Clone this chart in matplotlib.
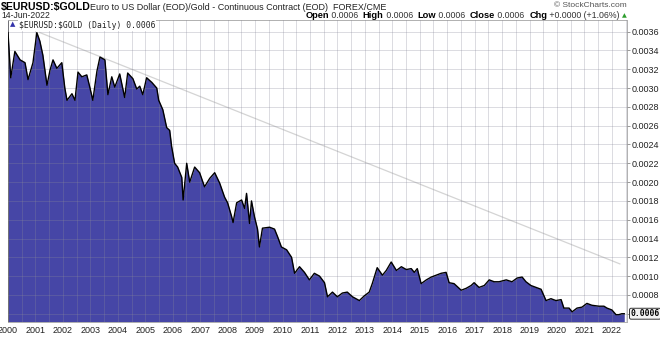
import matplotlib
matplotlib.use("Agg")
import matplotlib.pyplot as plt
from matplotlib.ticker import MultipleLocator, FixedLocator

# EUR/USD priced in gold, decimal-year dates and ratio values
years = [2000.00, 2000.10, 2000.25, 2000.44, 2000.62, 2000.73, 2000.91, 2001.05, 2001.16, 2001.27,
         2001.42, 2001.53, 2001.64, 2001.78, 2001.96, 2002.07, 2002.15, 2002.33, 2002.44, 2002.55,
         2002.69, 2002.87, 2002.98, 2003.09, 2003.24, 2003.35, 2003.53, 2003.64, 2003.78, 2003.89,
         2004.07, 2004.25, 2004.36, 2004.55, 2004.69, 2004.80, 2004.91, 2005.05, 2005.24, 2005.42,
         2005.49, 2005.64, 2005.78, 2005.89, 2005.96, 2006.07, 2006.18, 2006.33, 2006.38, 2006.51,
         2006.62, 2006.80, 2006.98, 2007.16, 2007.35, 2007.53, 2007.71, 2007.89, 2008.00, 2008.15,
         2008.20, 2008.33, 2008.51, 2008.62, 2008.69, 2008.80, 2008.87, 2008.98, 2009.09, 2009.16,
         2009.27, 2009.53, 2009.71, 2009.82, 2009.96, 2010.15, 2010.33, 2010.44, 2010.62, 2010.80,
         2010.98, 2011.16, 2011.35, 2011.53, 2011.64, 2011.82, 2012.00, 2012.18, 2012.36, 2012.55,
         2012.80, 2012.98, 2013.16, 2013.27, 2013.45, 2013.64, 2013.78, 2013.96, 2014.15, 2014.33,
         2014.51, 2014.69, 2014.80, 2014.91, 2015.05, 2015.24, 2015.42, 2015.60, 2015.78, 2015.96,
         2016.07, 2016.25, 2016.51, 2016.69, 2016.87, 2016.98, 2017.16, 2017.35, 2017.53, 2017.71,
         2017.89, 2018.15, 2018.36, 2018.55, 2018.73, 2018.87, 2019.05, 2019.24, 2019.42, 2019.60,
         2019.78, 2019.96, 2020.15, 2020.25, 2020.44, 2020.55, 2020.73, 2020.91, 2021.09, 2021.27,
         2021.53, 2021.71, 2021.82, 2022.00, 2022.15, 2022.25, 2022.36, 2022.45]
ratio = [0.00359, 0.00311, 0.00339, 0.00330, 0.00327, 0.00309, 0.00327, 0.00359, 0.00350, 0.00335,
         0.00303, 0.00319, 0.00330, 0.00321, 0.00327, 0.00300, 0.00287, 0.00294, 0.00287, 0.00317,
         0.00312, 0.00314, 0.00301, 0.00287, 0.00318, 0.00333, 0.00330, 0.00293, 0.00312, 0.00301,
         0.00315, 0.00290, 0.00316, 0.00310, 0.00299, 0.00302, 0.00293, 0.00311, 0.00306, 0.00300,
         0.00287, 0.00277, 0.00258, 0.00255, 0.00238, 0.00220, 0.00216, 0.00205, 0.00181, 0.00220,
         0.00200, 0.00216, 0.00210, 0.00195, 0.00204, 0.00210, 0.00199, 0.00184, 0.00178, 0.00163,
         0.00157, 0.00178, 0.00181, 0.00172, 0.00188, 0.00156, 0.00180, 0.00163, 0.00150, 0.00131,
         0.00151, 0.00152, 0.00150, 0.00142, 0.00131, 0.00128, 0.00120, 0.00103, 0.00110, 0.00104,
         0.00096, 0.00103, 0.00100, 0.00093, 0.00078, 0.00083, 0.00078, 0.00082, 0.00083, 0.00078,
         0.00074, 0.00079, 0.00083, 0.00092, 0.00109, 0.00101, 0.00106, 0.00115, 0.00106, 0.00110,
         0.00107, 0.00108, 0.00104, 0.00108, 0.00092, 0.00096, 0.00099, 0.00101, 0.00103, 0.00104,
         0.00093, 0.00092, 0.00085, 0.00087, 0.00090, 0.00093, 0.00088, 0.00090, 0.00096, 0.00094,
         0.00094, 0.00096, 0.00094, 0.00098, 0.00099, 0.00094, 0.00090, 0.00088, 0.00086, 0.00074,
         0.00076, 0.00074, 0.00075, 0.00066, 0.00066, 0.00062, 0.00066, 0.00067, 0.00071, 0.00069,
         0.00068, 0.00068, 0.00066, 0.00064, 0.00059, 0.00059, 0.00060, 0.00060]

# long-term downtrend line drawn from the 2001 high
trend_years = [2001.16, 2022.29]
trend_values = [0.00359, 0.00113]

year_ticks = list(range(2000, 2023))
price_ticks = [0.0008, 0.0010, 0.0012, 0.0014, 0.0016, 0.0018, 0.0020, 0.0022,
               0.0024, 0.0026, 0.0028, 0.0030, 0.0032, 0.0034, 0.0036]
last_value = "0.0006"

W, H = 660, 337
fig = plt.figure(figsize=(W / 100, H / 100), dpi=100)
fig.patch.set_facecolor("white")
plt.rcParams["font.family"] = ["Liberation Sans", "DejaVu Sans"]


def fx(px):
    return px / W


def fy(py):
    return 1 - py / H


ax = fig.add_axes([fx(8), fy(322), fx(627) - fx(8), fy(20) - fy(322)])
ymin, ymax = 0.000512, 0.003724
ax.set_xlim(2000.0, 2022.55)
ax.set_ylim(ymin, ymax)

fill_color = "#4646A6"
ax.fill_between(years, ratio, ymin, color=fill_color, lw=0, zorder=1)
ax.plot(years, ratio, color="black", lw=1.0, zorder=3)
ax.plot(trend_years, trend_values, color="#d4d4d4", lw=0.9, zorder=2)

# grid: half-year verticals, 0.0002 horizontals, drawn over the fill
ax.xaxis.set_major_locator(FixedLocator(year_ticks))
ax.xaxis.set_minor_locator(MultipleLocator(0.5))
ax.yaxis.set_major_locator(FixedLocator(price_ticks + [0.0006]))
ax.grid(which="both", axis="x", color="#8a8a9a", alpha=0.35, lw=0.6, zorder=2.5)
ax.grid(which="major", axis="y", color="#8a8a9a", alpha=0.35, lw=0.6, zorder=2.5)
ax.set_axisbelow(False)

ax.yaxis.tick_right()
ax.set_yticklabels([f"{v:.4f}" for v in price_ticks] + [""])
ax.set_xticklabels([str(y) for y in year_ticks])
ax.tick_params(axis="y", which="both", right=True, left=False, length=2, width=0.6,
               color="#888888", labelsize=6.5, pad=1.5, labelcolor="#222222")
ax.tick_params(axis="x", which="both", bottom=False, top=False, length=0, labelsize=6.5,
               pad=3, labelcolor="#222222")
for s in ax.spines.values():
    s.set_color("#b0b0b0")
    s.set_linewidth(0.7)
ax.spines["left"].set_color("#666666")

# last value marker on the price axis
ax.annotate(last_value, xy=(1.0, 0.0006), xycoords=("axes fraction", "data"),
            xytext=(2.5, 0), textcoords="offset points", ha="left", va="center",
            fontsize=5.8, fontweight="bold", family="DejaVu Sans Mono", color="black",
            bbox=dict(boxstyle="round,pad=0.12,rounding_size=0.2", fc="#f4f4f4",
                      ec="#333333", lw=0.7))

# in-chart series label
ax.text(0.004, 0.995, "\u25B2", transform=ax.transAxes, ha="left", va="top",
        fontsize=5, color="#3333aa", family="DejaVu Sans", zorder=6)
ax.text(0.017, 0.996, r"\$EURUSD:\$GOLD (Daily) 0.0006", transform=ax.transAxes,
        ha="left", va="top", fontsize=5.8, family="DejaVu Sans Mono", color="#222222",
        zorder=6, bbox=dict(fc="white", ec="none", pad=0.6))

# header
fig.text(fx(0.5), fy(7), r"\$EURUSD:\$GOLD", ha="left", va="center", fontsize=7.6,
         fontweight="bold", color="black")
fig.text(fx(90), fy(7), "Euro to US Dollar (EOD)/Gold - Continuous Contract (EOD)  FOREX/CME",
         ha="left", va="center", fontsize=6.5, color="#222222")
fig.text(fx(1), fy(16), "14-Jun-2022", ha="left", va="center", fontsize=6.2,
         color="#222222")
fig.text(fx(627), fy(5.5), "\u00A9 StockCharts.com", ha="right", va="center",
         fontsize=6.0, color="#555555")

header = [("Open", True), (" 0.0006  ", False), ("High", True), (" 0.0006  ", False),
          ("Low", True), (" 0.0006  ", False), ("Close", True), (" 0.0006  ", False),
          ("Chg", True), (" +0.0000 (+1.06%) ", False)]
fig.canvas.draw()
renderer = fig.canvas.get_renderer()
pieces = []
for txt, bold in header:
    t = fig.text(0, fy(15.5), txt, ha="left", va="center", fontsize=6.7 if bold else 6.3,
                 fontweight="bold" if bold else "normal", color="black" if bold else "#333333")
    pieces.append(t)
tri = fig.text(0, fy(15.5), "\u25B2", ha="left", va="center", fontsize=4.5,
               color="#2e9e2e", family="DejaVu Sans")
pieces.append(tri)
widths = [p.get_window_extent(renderer).width for p in pieces]
x = 627 - sum(widths)
for p, w in zip(pieces, widths):
    p.set_x(fx(x))
    x += w

fig.savefig("out.png", dpi=100, facecolor="white")
